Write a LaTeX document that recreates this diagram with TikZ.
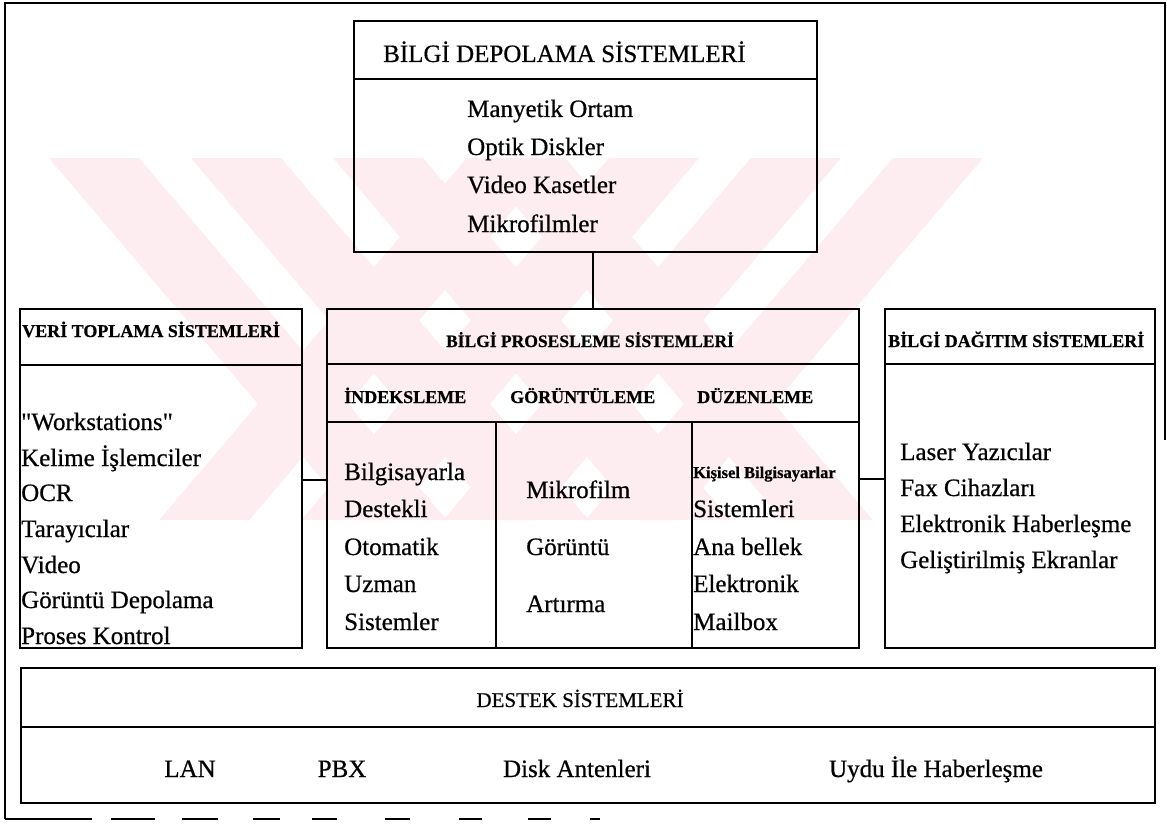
\documentclass[tikz,border=0pt]{standalone}
\usepackage{fontspec}
\setmainfont{Liberation Serif}[RawFeature={embolden=0.6}]
\definecolor{wm}{RGB}{253,236,240}

\begin{document}
\begin{tikzpicture}[x=1pt,y=-1pt,
  panel/.style={draw, line width=1.6pt, inner sep=0pt, outer sep=0pt},
  conn/.style={line width=1.6pt},
  rule/.style={line width=1.5pt},
  txt/.style={anchor=base west, inner sep=0pt, font=\fontsize{25}{29}\selectfont},
  ctxt/.style={txt, anchor=base},
  hd/.style={anchor=base west, inner sep=0pt, font=\fontsize{18}{21}\selectfont\bfseries},
  chd/.style={hd, anchor=base}]
\useasboundingbox (0,0) rectangle (1167,824);

% faint diagonal background bands
\begin{scope}
  \clip (40,158) rectangle (992,520);
  \foreach \a in {49,191,333,475}
    \fill[wm] (\a,158) -- ++(90,0) -- ++(307.7,362) -- ++(-90,0) -- cycle;
  \foreach \b in {983,841,699,557}
    \fill[wm] (\b,158) -- ++(-90,0) -- ++(-307.7,362) -- ++(90,0) -- cycle;
\end{scope}

% outer frame
\draw[line width=2pt] (5,819) -- (5,3) -- (1165,3) -- (1165,440);
\foreach \s/\e in {5/92,111/155,182/218,253/280,312/337,385/410,459/482,528/551,590/600}
  \draw[line width=1.6pt] (\s,819) -- (\e,819);

% system panels
\node[panel, minimum width=463pt, minimum height=231pt] (depo) at (585.5,136.5) {};
\node[panel, minimum width=282pt, minimum height=339pt] (veri) at (161,478.5) {};
\node[panel, minimum width=532pt, minimum height=339pt] (proses) at (593,478.5) {};
\node[panel, minimum width=270pt, minimum height=339pt] (dagitim) at (1020,478.5) {};
\node[panel, minimum width=1134pt, minimum height=135pt] (destek) at (588,735.5) {};

% header rules inside the panels
\draw[rule] ([yshift=-58pt]depo.north west) -- ([yshift=-58pt]depo.north east);
\draw[rule] ([yshift=-56pt]veri.north west) -- ([yshift=-56pt]veri.north east);
\draw[rule] ([yshift=-55pt]proses.north west) -- ([yshift=-55pt]proses.north east);
\draw[rule] ([yshift=-113pt]proses.north west) -- ([yshift=-113pt]proses.north east);
\draw[rule] ([xshift=169pt,yshift=-113pt]proses.north west) -- ([xshift=169pt]proses.south west);
\draw[rule] ([xshift=365pt,yshift=-113pt]proses.north west) -- ([xshift=365pt]proses.south west);
\draw[rule] ([yshift=-55pt]dagitim.north west) -- ([yshift=-55pt]dagitim.north east);
\draw[rule] ([yshift=-59pt]destek.north west) -- ([yshift=-59pt]destek.north east);

% connectors
\coordinate (lk) at (0,480);
\coordinate (rk) at (0,479);
\draw[conn] (depo.south -| proses.north) -- (proses.north);
\draw[conn] (veri.east |- lk) -- (proses.west |- lk);
\draw[conn] (proses.east |- rk) -- (dagitim.west |- rk);

% storage
\node[txt] (d0) at (383,62) {BİLGİ DEPOLAMA SİSTEMLERİ};
\node[txt] (d1) at (467,117) {Manyetik Ortam};
\node[txt] (d2) at (467,155) {Optik Diskler};
\node[txt] (d3) at (467,193) {Video Kasetler};
\node[txt] (d4) at (467,232) {Mikrofilmler};

% data collection
\node[hd] (v0) at (22,337) {VERİ TOPLAMA SİSTEMLERİ};
\node[txt] (v1) at (21,430) {\textquotedbl Workstations\textquotedbl};
\node[txt] (v2) at (21,466) {Kelime İşlemciler};
\node[txt] (v3) at (21,501) {OCR};
\node[txt] (v4) at (21,537) {Tarayıcılar};
\node[txt] (v5) at (21,573) {Video};
\node[txt] (v6) at (21,608) {Görüntü Depolama};
\node[txt] (v7) at (21,644) {Proses Kontrol};

% processing
\node[chd, font=\fontsize{17.5}{20}\selectfont\bfseries] (p0) at (590,347) {BİLGİ PROSESLEME SİSTEMLERİ};
\node[hd] (p1) at (344,403) {İNDEKSLEME};
\node[hd] (p2) at (510,403) {GÖRÜNTÜLEME};
\node[hd] (p3) at (697,403) {DÜZENLEME};
\node[txt] (a1) at (344,480) {Bilgisayarla};
\node[txt] (a2) at (344,517) {Destekli};
\node[txt] (a3) at (344,555) {Otomatik};
\node[txt] (a4) at (344,592) {Uzman};
\node[txt] (a5) at (344,630) {Sistemler};
\node[txt] (b1) at (526,498) {Mikrofilm};
\node[txt] (b2) at (526,555) {Görüntü};
\node[txt] (b3) at (526,612) {Artırma};
\node[hd, font=\fontsize{16.5}{19}\selectfont\bfseries] (c1) at (693,478) {Kişisel Bilgisayarlar};
\node[txt] (c2) at (693,517) {Sistemleri};
\node[txt] (c3) at (693,555) {Ana bellek};
\node[txt] (c4) at (693,592) {Elektronik};
\node[txt] (c5) at (693,630) {Mailbox};

% distribution
\node[hd] (g0) at (888,347) {BİLGİ DAĞITIM SİSTEMLERİ};
\node[txt] (g1) at (900,460) {Laser Yazıcılar};
\node[txt] (g2) at (900,496) {Fax Cihazları};
\node[txt] (g3) at (900,532) {Elektronik Haberleşme};
\node[txt] (g4) at (900,568) {Geliştirilmiş Ekranlar};

% support
\node[ctxt, font=\fontsize{21}{25}\selectfont] (s0) at (580,707) {DESTEK SİSTEMLERİ};
\node[ctxt] (s1) at (190,777) {LAN};
\node[ctxt] (s2) at (342,777) {PBX};
\node[ctxt] (s3) at (577,777) {Disk Antenleri};
\node[ctxt] (s4) at (936,777) {Uydu İle Haberleşme};
\end{tikzpicture}
\end{document}
